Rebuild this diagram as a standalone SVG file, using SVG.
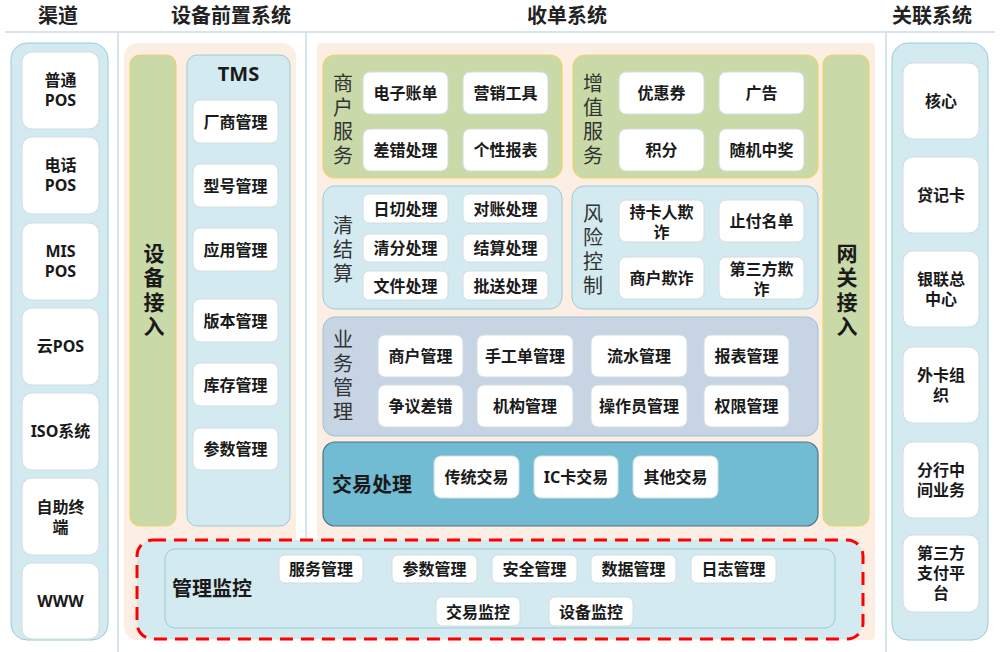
<svg xmlns="http://www.w3.org/2000/svg" width="1000" height="652" viewBox="0 0 1000 652">
<style>
text{font-family:"Noto Sans","Noto Sans CJK SC",sans-serif;fill:#1a1a1a;dominant-baseline:central;text-anchor:middle}
.h{font-size:20px;font-weight:700;fill:#222}
.t{font-size:16px;font-weight:700}
.v{writing-mode:vertical-rl;text-anchor:start}
.lbl{font-size:20px;font-weight:400;fill:#333;letter-spacing:4px}
.big{font-size:20px;font-weight:700}
.vb{font-size:21px;font-weight:700;letter-spacing:3.3px}
.box{fill:#fff;stroke:#D2DCE0;stroke-width:1}
.blue{fill:#D3EAF0;stroke:#9CCAD6;stroke-width:1}
.green{fill:#C9D9A7;stroke:#EDD46A;stroke-width:1.2}
.peach{fill:#FDEEE4}
.sep{stroke:#C6DEE6;stroke-width:1.5}
</style>
<rect width="1000" height="652" fill="#fff"/>
<g id="headers">
<text class="h" x="58" y="15">渠道</text>
<text class="h" x="231" y="15">设备前置系统</text>
<text class="h" x="567" y="15">收单系统</text>
<text class="h" x="932" y="15">关联系统</text>
<line class="sep" x1="5" y1="32" x2="995" y2="32"/>
<line class="sep" x1="118" y1="32" x2="118" y2="652"/>
<line class="sep" x1="886" y1="32" x2="886" y2="652"/>
<line class="sep" x1="306" y1="32" x2="306" y2="540"/>
</g>
<g id="backgrounds">
<rect class="peach" x="124" y="43" width="172" height="597" rx="14"/>
<rect class="peach" x="317" y="43" width="558" height="597" rx="4"/>
</g>
<g id="channels">
<rect class="blue" x="11" y="43" width="97" height="597" rx="16"/>
<rect class="box" x="22" y="52" width="77" height="77" rx="10"/>
<text class="t" x="60.5" y="80">普通<tspan x="60.5" dy="20">POS</tspan></text>
<rect class="box" x="22" y="137" width="77" height="77" rx="10"/>
<text class="t" x="60.5" y="165">电话<tspan x="60.5" dy="20">POS</tspan></text>
<rect class="box" x="22" y="223" width="77" height="77" rx="10"/>
<text class="t" x="60.5" y="251">MIS<tspan x="60.5" dy="20">POS</tspan></text>
<rect class="box" x="22" y="308" width="77" height="77" rx="10"/>
<text class="t" x="60.5" y="346">云POS</text>
<rect class="box" x="22" y="393" width="77" height="77" rx="10"/>
<text class="t" x="60.5" y="431">ISO系统</text>
<rect class="box" x="22" y="478" width="77" height="77" rx="10"/>
<text class="t" x="60.5" y="506.5">自助终<tspan x="60.5" dy="20">端</tspan></text>
<rect class="box" x="22" y="563" width="77" height="76" rx="10"/>
<text class="t" x="60.5" y="601">WWW</text>
</g>
<g id="device-access">
<rect class="green" x="130" y="55" width="46" height="471" rx="10"/>
<text class="vb v" x="153" y="242.5">设备接入</text>
</g>
<g id="tms">
<rect class="blue" x="187" y="55" width="103" height="471" rx="10"/>
<text class="big" x="238.5" y="73">TMS</text>
<rect class="box" x="193" y="100" width="85" height="43" rx="7"/><text class="t" x="235.5" y="121.5">厂商管理</text>
<rect class="box" x="193" y="164" width="85" height="43" rx="7"/><text class="t" x="235.5" y="185.5">型号管理</text>
<rect class="box" x="193" y="228" width="85" height="43" rx="7"/><text class="t" x="235.5" y="249.5">应用管理</text>
<rect class="box" x="193" y="299" width="85" height="43" rx="7"/><text class="t" x="235.5" y="320.5">版本管理</text>
<rect class="box" x="193" y="363" width="85" height="43" rx="7"/><text class="t" x="235.5" y="384.5">库存管理</text>
<rect class="box" x="193" y="428" width="85" height="42" rx="7"/><text class="t" x="235.5" y="449">参数管理</text>
</g>
<g id="merchant-service">
<rect class="green" x="323" y="55" width="239" height="123" rx="12"/>
<text class="lbl v" x="342" y="73">商户服务</text>
<rect class="box" x="363" y="72" width="85" height="42" rx="7"/><text class="t" x="405.5" y="93">电子账单</text>
<rect class="box" x="463" y="72" width="85" height="42" rx="7"/><text class="t" x="505.5" y="93">营销工具</text>
<rect class="box" x="363" y="129" width="85" height="42" rx="7"/><text class="t" x="405.5" y="150">差错处理</text>
<rect class="box" x="463" y="129" width="85" height="42" rx="7"/><text class="t" x="505.5" y="150">个性报表</text>
</g>
<g id="value-added">
<rect class="green" x="573" y="55" width="245" height="123" rx="12"/>
<text class="lbl v" x="592" y="73">增值服务</text>
<rect class="box" x="619" y="72" width="85" height="42" rx="7"/><text class="t" x="661.5" y="93">优惠券</text>
<rect class="box" x="719" y="72" width="85" height="42" rx="7"/><text class="t" x="761.5" y="93">广告</text>
<rect class="box" x="619" y="129" width="85" height="42" rx="7"/><text class="t" x="661.5" y="150">积分</text>
<rect class="box" x="719" y="129" width="85" height="42" rx="7"/><text class="t" x="761.5" y="150">随机中奖</text>
</g>
<g id="clearing">
<rect class="blue" x="323" y="186" width="239" height="123" rx="12"/>
<text class="lbl v" x="342" y="215">清结算</text>
<rect class="box" x="363" y="194" width="85" height="29" rx="6"/><text class="t" x="405.5" y="208.5">日切处理</text>
<rect class="box" x="463" y="194" width="85" height="29" rx="6"/><text class="t" x="505.5" y="208.5">对账处理</text>
<rect class="box" x="363" y="234" width="85" height="28" rx="6"/><text class="t" x="405.5" y="248">清分处理</text>
<rect class="box" x="463" y="234" width="85" height="28" rx="6"/><text class="t" x="505.5" y="248">结算处理</text>
<rect class="box" x="363" y="271" width="85" height="29" rx="6"/><text class="t" x="405.5" y="285.5">文件处理</text>
<rect class="box" x="463" y="271" width="85" height="29" rx="6"/><text class="t" x="505.5" y="285.5">批送处理</text>
</g>
<g id="risk">
<rect class="blue" x="572" y="186" width="246" height="123" rx="12"/>
<text class="lbl v" x="592" y="203">风险控制</text>
<rect class="box" x="619" y="200" width="85" height="42" rx="7"/><text class="t" x="661.5" y="211.5">持卡人欺<tspan x="661.5" dy="20">诈</tspan></text>
<rect class="box" x="719" y="200" width="85" height="42" rx="7"/><text class="t" x="761.5" y="221">止付名单</text>
<rect class="box" x="619" y="257" width="85" height="42" rx="7"/><text class="t" x="661.5" y="278">商户欺诈</text>
<rect class="box" x="719" y="257" width="85" height="42" rx="7"/><text class="t" x="761.5" y="268.5">第三方欺<tspan x="761.5" dy="20">诈</tspan></text>
</g>
<g id="business-mgmt">
<rect x="323" y="317" width="495" height="119" rx="12" fill="#C6D4E4" stroke="#9DC3D3"/>
<text class="lbl v" x="342" y="329">业务管理</text>
<rect class="box" x="378" y="335" width="85" height="42" rx="7"/><text class="t" x="420.5" y="356">商户管理</text>
<rect class="box" x="477" y="335" width="96" height="42" rx="7"/><text class="t" x="525" y="356">手工单管理</text>
<rect class="box" x="591" y="335" width="96" height="42" rx="7"/><text class="t" x="639" y="356">流水管理</text>
<rect class="box" x="704" y="335" width="85" height="42" rx="7"/><text class="t" x="746.5" y="356">报表管理</text>
<rect class="box" x="378" y="385" width="85" height="42" rx="7"/><text class="t" x="420.5" y="406">争议差错</text>
<rect class="box" x="477" y="385" width="96" height="42" rx="7"/><text class="t" x="525" y="406">机构管理</text>
<rect class="box" x="591" y="385" width="96" height="42" rx="7"/><text class="t" x="639" y="406">操作员管理</text>
<rect class="box" x="704" y="385" width="85" height="42" rx="7"/><text class="t" x="746.5" y="406">权限管理</text>
</g>
<g id="transaction">
<rect x="323" y="442" width="495" height="84" rx="12" fill="#71BCD3" stroke="#4F7584" stroke-width="1.2"/>
<text class="big" x="332" y="484" style="text-anchor:start">交易处理</text>
<rect class="box" x="434" y="456" width="85" height="42" rx="7"/><text class="t" x="476.5" y="477">传统交易</text>
<rect class="box" x="534" y="456" width="84" height="42" rx="7"/><text class="t" x="576" y="477">IC卡交易</text>
<rect class="box" x="633" y="456" width="85" height="42" rx="7"/><text class="t" x="675.5" y="477">其他交易</text>
</g>
<g id="gateway">
<rect class="green" x="823" y="55" width="46" height="471" rx="10"/>
<text class="vb v" x="846" y="242.5">网关接入</text>
</g>
<g id="related">
<rect class="blue" x="892" y="43" width="96" height="597" rx="16"/>
<rect class="box" x="903" y="63" width="76" height="76" rx="10"/><text class="t" x="941" y="101">核心</text>
<rect class="box" x="903" y="157" width="76" height="76" rx="10"/><text class="t" x="941" y="195">贷记卡</text>
<rect class="box" x="903" y="251" width="76" height="76" rx="10"/><text class="t" x="941" y="279">银联总<tspan x="941" dy="20">中心</tspan></text>
<rect class="box" x="903" y="347" width="76" height="76" rx="10"/><text class="t" x="941" y="375">外卡组<tspan x="941" dy="20">织</tspan></text>
<rect class="box" x="903" y="442" width="76" height="76" rx="10"/><text class="t" x="941" y="470">分行中<tspan x="941" dy="20">间业务</tspan></text>
<rect class="box" x="903" y="535" width="76" height="77" rx="10"/><text class="t" x="941" y="553">第三方<tspan x="941" dy="20">支付平</tspan><tspan x="941" dy="20">台</tspan></text>
</g>
<g id="monitor">
<rect x="137" y="540" width="726" height="99" rx="16" fill="#D3EAF0" stroke="#FF0000" stroke-width="3" stroke-dasharray="13 8"/>
<rect class="blue" x="165" y="549" width="670" height="79" rx="10"/>
<text class="big" x="172" y="588" style="text-anchor:start">管理监控</text>
<rect class="box" x="279" y="555" width="84" height="28" rx="6"/><text class="t" x="321" y="569">服务管理</text>
<rect class="box" x="392" y="555" width="85" height="28" rx="6"/><text class="t" x="434.5" y="569">参数管理</text>
<rect class="box" x="492" y="555" width="85" height="28" rx="6"/><text class="t" x="534.5" y="569">安全管理</text>
<rect class="box" x="591" y="555" width="85" height="28" rx="6"/><text class="t" x="633.5" y="569">数据管理</text>
<rect class="box" x="691" y="555" width="85" height="28" rx="6"/><text class="t" x="733.5" y="569">日志管理</text>
<rect class="box" x="436" y="597" width="84" height="29" rx="6"/><text class="t" x="478" y="611.5">交易监控</text>
<rect class="box" x="549" y="597" width="84" height="29" rx="6"/><text class="t" x="591" y="611.5">设备监控</text>
</g>
<g id="connectors"></g>
</svg>
